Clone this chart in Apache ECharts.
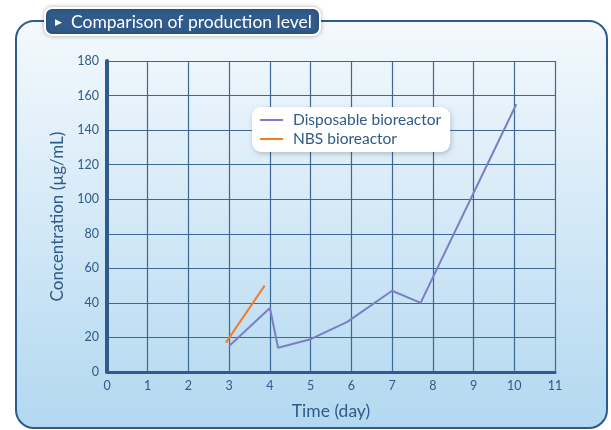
<!DOCTYPE html>
<html>
<head>
<meta charset="utf-8">
<script src="https://cdn.jsdelivr.net/npm/echarts@6/dist/echarts.min.js"></script>
<style>html,body{margin:0;padding:0;background:#fff}#c{width:611px;height:430px}</style>
</head>
<body>
<div id="c"></div>
<script>
var titleText = 'Comparison of production level';
var xAxisName = 'Time (day)';
var yAxisName = 'Concentration (\u00b5g/mL)';
var seriesNames = ['Disposable bioreactor', 'NBS bioreactor'];
var disposableX = [3.0, 4.0, 4.2, 5.0, 5.9, 7.0, 7.7, 10.05];
var disposableY = [15, 37, 14, 19, 29, 47, 40, 155];
var nbsX = [2.92, 3.87];
var nbsY = [17, 50];

var FONT = 'Lato';
var DARK = '#2f5a8a';

function pairs(xs, ys) { return xs.map(function (x, i) { return [x, ys[i]]; }); }

var chart = echarts.init(document.getElementById('c'), null, {renderer: 'canvas'});
chart.setOption({
  animation: false,
  backgroundColor: '#ffffff',
  textStyle: {fontFamily: FONT},
  graphic: [{
    type: 'rect', z: -10, silent: true,
    shape: {x: 16, y: 21, width: 591, height: 407, r: 18},
    style: {
      fill: new echarts.graphic.LinearGradient(0, 0, 0, 1, [
        {offset: 0, color: '#f4f9fd'},
        {offset: 1, color: '#b2d8f0'}
      ]),
      stroke: DARK, lineWidth: 2
    }
  }],
  title: {
    text: '{tri|\u25B6}  ' + titleText,
    left: 45, top: 8,
    backgroundColor: DARK,
    borderColor: '#ffffff', borderWidth: 2, borderRadius: 7,
    shadowColor: 'rgba(0,0,0,0.25)', shadowBlur: 4,
    padding: [5, 8, 4, 10],
    textStyle: {
      color: '#ffffff', fontSize: 17.5, fontWeight: 'normal', fontFamily: FONT,
      rich: {tri: {fontSize: 9, color: '#ffffff'}}
    }
  },
  legend: {
    orient: 'vertical', left: 252, top: 107,
    backgroundColor: '#ffffff', borderRadius: 9,
    shadowColor: 'rgba(0,0,0,0.2)', shadowBlur: 5, shadowOffsetX: 1, shadowOffsetY: 2,
    padding: [5, 9, 5, 8],
    icon: 'rect',
    itemWidth: 23, itemHeight: 2, itemGap: 3,
    textStyle: {color: DARK, fontSize: 15.5, fontFamily: FONT, padding: [0, 0, 0, 5]},
    data: seriesNames
  },
  grid: {left: 107, right: 56, top: 61, bottom: 58, containLabel: false},
  xAxis: {
    type: 'value', min: 0, max: 11, interval: 1,
    name: xAxisName, nameLocation: 'middle', nameGap: 30,
    nameTextStyle: {color: DARK, fontSize: 17.5, fontFamily: FONT},
    axisLine: {show: true, onZero: false, lineStyle: {color: DARK, width: 3}},
    axisTick: {show: false},
    axisLabel: {color: DARK, fontSize: 12.5, margin: 7, fontFamily: FONT},
    splitLine: {show: true, lineStyle: {color: '#3d6796', width: 1.2}}
  },
  yAxis: {
    type: 'value', min: 0, max: 180, interval: 20,
    name: yAxisName, nameLocation: 'middle', nameGap: 38,
    nameTextStyle: {color: DARK, fontSize: 17, fontFamily: FONT},
    axisLine: {show: true, onZero: false, lineStyle: {color: DARK, width: 4}},
    axisTick: {show: false},
    axisLabel: {color: DARK, fontSize: 12.5, margin: 8, fontFamily: FONT},
    splitLine: {show: true, lineStyle: {color: '#3d6796', width: 1.2}}
  },
  series: [
    {name: seriesNames[0], type: 'line', symbol: 'none', data: pairs(disposableX, disposableY),
     lineStyle: {color: '#7b7ec4', width: 2}, itemStyle: {color: '#7b7ec4'}},
    {name: seriesNames[1], type: 'line', symbol: 'none', data: pairs(nbsX, nbsY),
     lineStyle: {color: '#f07d2a', width: 2}, itemStyle: {color: '#f07d2a'}}
  ]
});
</script>
</body>
</html>
